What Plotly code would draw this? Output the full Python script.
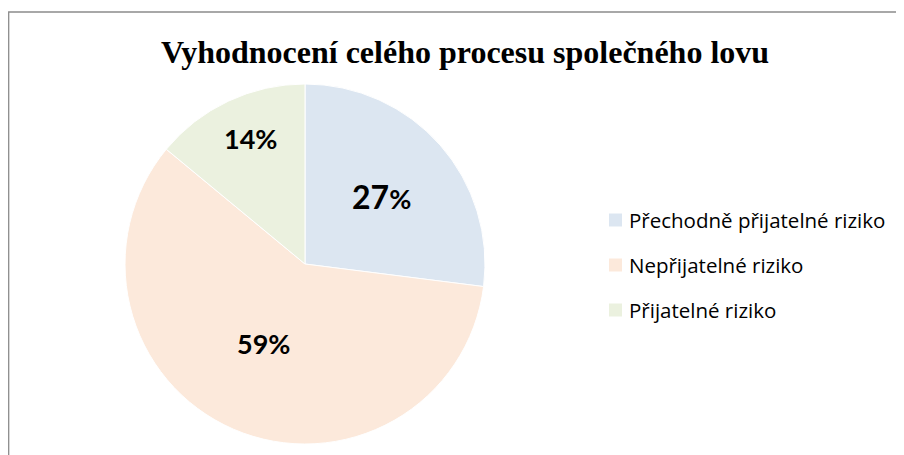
import math
import plotly.graph_objects as go

# ---- data ----
labels = ["Přechodně přijatelné riziko", "Nepřijatelné riziko", "Přijatelné riziko"]
values = [27, 59, 14]
colors = ["#DCE6F1", "#FCE9DB", "#EBF1DF"]
title = "Vyhodnocení celého procesu společného lovu"

# ---- layout constants (pixels, page coordinates; page body has an 8px margin) ----
W, H = 904, 455
OFF = 8
CX, CY, R = 305, 264, 180
label_r = [0.57, 0.50, 0.76]
label_dang = [0, 4, 1.5]
label_size = [32, 27, 27]
pct_size = [27, 27, 27]


def px(x):
    return (x - OFF) / W


def py(y):
    return 1 - (y - OFF) / H


fig = go.Figure()
fig.add_trace(go.Pie(
    labels=labels,
    values=values,
    marker=dict(colors=colors, line=dict(color="white", width=1)),
    sort=False,
    direction="clockwise",
    rotation=0,
    textinfo="none",
    hoverinfo="label+percent",
    showlegend=False,
    domain=dict(x=[px(CX - R), px(CX + R)], y=[py(CY + R), py(CY - R)]),
))

annotations = []
total = sum(values)
cum = 0
for i, v in enumerate(values):
    mid = (cum + v / 2) / total * 2 * math.pi + math.radians(label_dang[i])
    cum += v
    rr = label_r[i] * R
    x = CX + math.sin(mid) * rr
    y = CY - math.cos(mid) * rr
    pct = round(v / total * 100)
    txt = (f"<b><span style='font-size:{label_size[i]}px'>{pct}</span>"
           f"<span style='font-size:{pct_size[i]}px'>%</span></b>")
    annotations.append(dict(
        x=px(x), y=py(y), xref="paper", yref="paper",
        text=txt, showarrow=False, xanchor="center", yanchor="middle",
        font=dict(family="Lato", size=label_size[i], color="black"),
    ))

# manual legend
shapes = []
leg_x, leg_y0, leg_gap, sq = 609, 220, 45, 13
for i, lab in enumerate(labels):
    yc = leg_y0 + i * leg_gap
    shapes.append(dict(type="rect", xref="paper", yref="paper",
                       x0=px(leg_x), x1=px(leg_x + sq),
                       y0=py(yc + sq / 2), y1=py(yc - sq / 2),
                       fillcolor=colors[i], line=dict(width=0)))
    annotations.append(dict(
        x=px(leg_x + sq + 5), y=py(yc), xref="paper", yref="paper",
        text=lab, showarrow=False, xanchor="left", yanchor="middle",
        font=dict(family="Open Sans", size=20.5, color="black"),
    ))

# chart border (right/bottom edges cropped in reference)
shapes.append(dict(type="rect", xref="paper", yref="paper",
                   x0=px(8.7), x1=1.05, y0=-0.05, y1=py(12),
                   line=dict(color="#8C8C8C", width=1.3), fillcolor="rgba(0,0,0,0)"))

annotations.append(dict(
    x=px(465), y=py(52.5), xref="paper", yref="paper",
    text=f"<b>{title}</b>", showarrow=False, xanchor="center", yanchor="middle",
    font=dict(family="Liberation Serif", size=32, color="black"),
))

fig.update_layout(
    width=W, height=H,
    margin=dict(l=0, r=0, t=0, b=0),
    paper_bgcolor="white",
    plot_bgcolor="white",
    annotations=annotations,
    shapes=shapes,
)

fig.write_html("out.html")
